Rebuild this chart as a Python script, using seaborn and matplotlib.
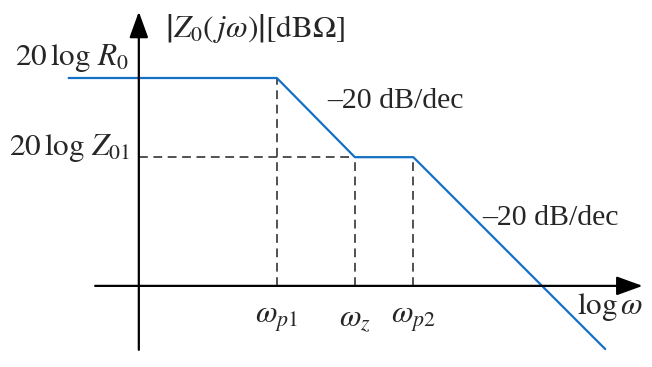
import numpy as np
import matplotlib
matplotlib.use("Agg")
import matplotlib.pyplot as plt
import seaborn as sns

# asymptotic Bode magnitude, x = log(omega) in decades, y in dB
log_w = [-0.9, 1.77, 2.77, 3.52, 5.98]
mag_db = [53.3, 53.3, 33.0, 33.0, -16.2]
break_labels = [r'$\omega_{p1}$', r'$\omega_z$', r'$\omega_{p2}$']
slope_label = '–20 dB/dec'

sns.set_style('white')
plt.rcParams['mathtext.fontset'] = 'stix'
plt.rcParams['font.family'] = ['Liberation Serif', 'DejaVu Serif']

fig = plt.figure(figsize=(6.52, 3.67), dpi=100)
ax = fig.add_axes([0, 0, 1, 1])
ax.set_xlim(-1.78, 6.58)
ax.set_ylim(-20.8, 73.3)
ax.axis('off')

# axes with arrows
arrow = dict(arrowstyle='-|>,head_length=0.8,head_width=0.29', mutation_scale=20,
             lw=1.6, color='black', shrinkA=0, shrinkB=0)
ax.annotate('', xy=(6.46, 0), xytext=(-0.56, 0), arrowprops=arrow)
ax.annotate('', xy=(0, 70.3), xytext=(0, -16.4), arrowprops=arrow)

# dashed guides
dash = dict(color='#2a2a2a', lw=1.15, linestyle=(0, (5.5, 3.5)))
for i in (1, 2, 3):
    ax.plot([log_w[i], log_w[i]], [0, mag_db[i]], **dash)
ax.plot([0, log_w[2]], [mag_db[2], mag_db[2]], **dash)

sns.lineplot(x=log_w, y=mag_db, color='#1470c4', lw=1.6, ax=ax)

fs = 21
mfs = 22.5
ax.text(-1.59, 56.7, r'$20\,\log\,R_0$', fontsize=mfs, ha='left', va='baseline')
ax.text(-1.67, 33.6, r'$20\,\log\,Z_{01}$', fontsize=mfs, ha='left', va='baseline')
ax.text(0.33, 66.0, r'$\left|Z_0\left(\,j\omega\right)\right|\left[\mathrm{dB}\Omega\right]$',
        fontsize=mfs, ha='left', va='center')
ax.text(2.41, 45.6, slope_label, fontsize=fs + 0.5, ha='left', va='baseline')
ax.text(4.40, 15.6, slope_label, fontsize=fs + 0.5, ha='left', va='baseline')
for i, lab in zip((1, 2, 3), break_labels):
    ax.text(log_w[i], -5.0, lab, fontsize=mfs, ha='center', va='top')
ax.text(6.47, -5.4, r'$\log\omega$', fontsize=mfs, ha='right', va='center')

fig.savefig('out.png', dpi=100)
